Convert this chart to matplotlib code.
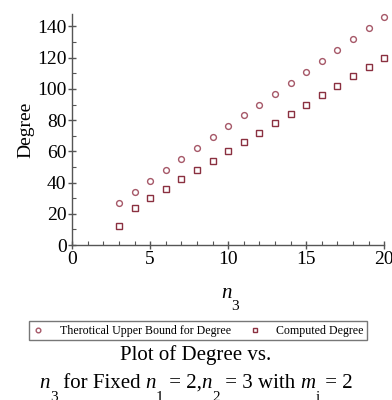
import matplotlib
matplotlib.use("Agg")
import matplotlib.pyplot as plt
from matplotlib.ticker import MultipleLocator

plt.rcParams['font.family'] = ['Liberation Serif', 'DejaVu Serif']
plt.rcParams['mathtext.fontset'] = 'stix'

n3 = list(range(3, 21))
upper_bound = [27, 34, 41, 48, 55, 62, 69, 76, 83, 90, 97, 104, 111, 118, 125, 132, 139, 146]
computed = [12, 24, 30, 36, 42, 48, 54, 60, 66, 72, 78, 84, 90, 96, 102, 108, 114, 120]

W, H = 392, 400
fig = plt.figure(figsize=(W / 100, H / 100), dpi=100)
ax = fig.add_axes([0.184, 0.3875, 0.796, 0.5775])

c1 = '#a65868'
c2 = '#8a3040'
ax.plot(n3, upper_bound, linestyle='none', marker='o', markersize=4.2, mfc='none',
        mec=c1, mew=1.0, label='Therotical Upper Bound for Degree', clip_on=False)
ax.plot(n3, computed, linestyle='none', marker='s', markersize=4.2, mfc='none',
        mec=c2, mew=1.0, label='Computed Degree', clip_on=False)

ax.set_xlim(0, 20)
ax.set_ylim(0, 148)
for s in ['top', 'right']:
    ax.spines[s].set_visible(False)
for s in ['left', 'bottom']:
    ax.spines[s].set_color('#555555')
    ax.spines[s].set_linewidth(1.0)

ax.xaxis.set_major_locator(MultipleLocator(5))
ax.xaxis.set_minor_locator(MultipleLocator(1))
ax.yaxis.set_major_locator(MultipleLocator(20))
ax.yaxis.set_minor_locator(MultipleLocator(10))
ax.tick_params(which='major', direction='inout', length=6, width=1.0, color='#555555',
               labelsize=14, pad=1)
ax.tick_params(which='minor', direction='in', length=3, width=0.8, color='#555555')

ax.set_ylabel('Degree', fontsize=14, labelpad=2)

leg = fig.legend(loc='upper center', bbox_to_anchor=(0.505, 0.197), borderaxespad=0,
                 ncol=2, fontsize=8.6, frameon=True, fancybox=False, edgecolor='#555555',
                 handlelength=1.0, handletextpad=1.3, columnspacing=1.5, borderpad=0.3,
                 markerscale=0.8)
leg.get_frame().set_linewidth(1.0)

renderer = fig.canvas.get_renderer()


def seq_text(parts, y_px, center_x_px, size=15, subsize=11, sub_drop=11):
    """parts: list of (string, kind) kind in 'n' (normal), 'i' (italic), 's' (subscript)."""
    texts = []
    for s, kind in parts:
        if kind == 's':
            t = fig.text(0, 0, s, fontsize=subsize, va='baseline', ha='left')
        elif kind == 'i':
            t = fig.text(0, 0, s, fontsize=size, style='italic', va='baseline', ha='left')
        else:
            t = fig.text(0, 0, s, fontsize=size, va='baseline', ha='left')
        texts.append((t, kind))
    widths = [t.get_window_extent(renderer).width for t, _ in texts]
    total = sum(widths)
    x = center_x_px - total / 2
    for (t, kind), w in zip(texts, widths):
        yy = y_px + (sub_drop if kind == 's' else 0)
        t.set_position((x / W, 1 - yy / H))
        x += w


seq_text([('n', 'i'), ('3', 's')], 298, 230, size=15, subsize=11, sub_drop=12)
fig.text(0.5, 1 - 355 / H, 'Plot of Degree vs.', ha='center', va='center', fontsize=15)
seq_text([('n', 'i'), ('3', 's'), (' for Fixed ', 'n'), ('n', 'i'), ('1', 's'),
          (' = 2,', 'n'), ('n', 'i'), ('2', 's'), (' = 3 with ', 'n'), ('m', 'i'),
          ('i', 's'), (' = 2', 'n')], 388, 196, size=15, subsize=11, sub_drop=13)

fig.savefig('out.png', dpi=100)
